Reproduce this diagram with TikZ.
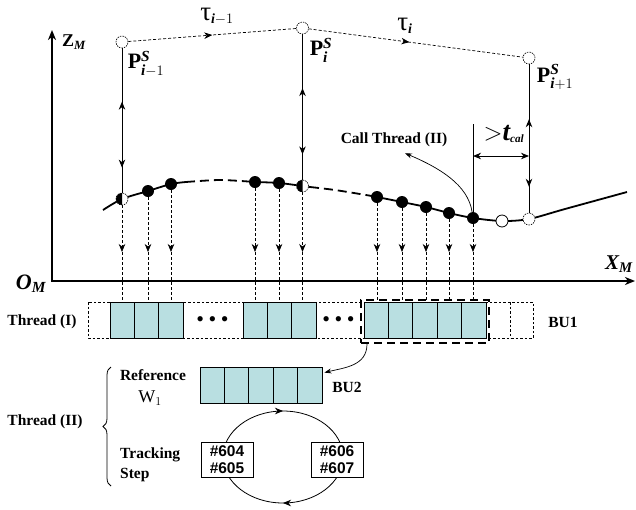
\documentclass[tikz,border=0pt]{standalone}
\usepackage{fontspec}
\usepackage{amsmath}
\setmainfont{Liberation Serif}
\setsansfont{Liberation Sans}
\usetikzlibrary{arrows.meta,calc,decorations.markings,decorations.pathreplacing}
\definecolor{cellfill}{HTML}{B9DFE1}
\newcommand\mybi[1]{\text{\bfseries\itshape #1}}
\tikzset{
 myarr/.tip={Stealth[length=8pt,width=6.5pt,inset=2.5pt]},
 cell/.style={draw, line width=0.8pt, fill=cellfill, minimum width=24.4pt, minimum height=36pt, inner sep=0pt},
 bdot/.style={circle, fill=black, minimum size=12pt, inner sep=0pt},
 hdot/.style={circle, draw, dash pattern=on 1.5pt off 1pt, line width=0.6pt, fill=white, minimum size=12pt, inner sep=0pt},
 odot/.style={circle, draw, line width=0.8pt, fill=white, minimum size=12pt, inner sep=0pt},
 lab/.style={font=\bfseries\fontsize{15.5}{17}\selectfont, inner sep=0pt},
 vdash/.style={line width=0.7pt, dash pattern=on 3pt off 2pt},
 dotrect/.style={line width=0.7pt, dash pattern=on 2.5pt off 2pt},
 curvesolid/.style={line width=1.8pt},
 curvedash/.style={line width=1.8pt, dash pattern=on 9pt off 5pt},
 axis/.style={line width=1.8pt},
 midarrow/.style={decoration={markings, mark=at position #1 with {\arrow{myarr}}}, postaction={decorate}},
 numbox/.style={draw, fill=white, line width=0.8pt, minimum width=52pt, minimum height=35pt, inner sep=0pt, align=center, font=\sffamily\bfseries\fontsize{15.5}{16.5}\selectfont},
}
\begin{document}
\begin{tikzpicture}[x=1pt,y=-1pt]
\useasboundingbox (0,0) rectangle (636,509);

% axes
\coordinate (orig) at (52,281);
\coordinate (ztop) at (52,30);
\coordinate (xend) at (635,281);
\draw[axis, {Stealth[length=10pt,width=8pt,inset=3pt]}-{Stealth[length=10pt,width=8pt,inset=3pt]}] (ztop) -- (orig) -- (xend);
\node[inner sep=0pt, font=\fontsize{18}{18}\selectfont] (zl) at (74,42) {\textbf{Z}$_{\mybi{M}}$};
\node[inner sep=0pt, font=\fontsize{21}{21}\selectfont] (xl) at (619,264) {\mybi{X}$_{\mybi{M}}$};
\node[inner sep=0pt, font=\fontsize{22}{22}\selectfont] (ol) at (31,284) {\mybi{O}$_{\mybi{M}}$};

% curve
\draw[curvesolid] plot[smooth] coordinates {(103,210) (122,199) (148,191) (171,184) (186,182)};
\draw[curvedash] plot[smooth] coordinates {(186,182) (220,180) (255,182)};
\draw[curvesolid] plot[smooth] coordinates {(255,182) (279,183) (302.5,186) (310,187)};
\draw[curvedash] plot[smooth] coordinates {(310,187) (335,190) (366,195)};
\draw[curvesolid] plot[smooth] coordinates {(366,195) (377,197) (402,202) (426,207) (449,213) (473,218) (502,221) (529,219) (565,209) (627,192)};

% buffer row BU1
\draw[dotrect] (88,302) rectangle (533,338);
\draw[dotrect] (510,302) -- (510,338);
\foreach \i/\x in {1/122.2,2/146.6,3/171} \node[cell] (a\i) at (\x,320) {};
\foreach \i/\x in {1/255.2,2/279.6,3/304} \node[cell] (b\i) at (\x,320) {};
\foreach \i/\x in {1/376.2,2/400.6,3/425,4/449.4,5/473.8} \node[cell] (c\i) at (\x,320) {};
\node[font=\fontsize{22}{22}\selectfont, inner sep=0pt] (el1) at (212.5,322) {\textbullet\hspace{4.5pt}\textbullet\hspace{4.5pt}\textbullet};
\node[font=\fontsize{22}{22}\selectfont, inner sep=0pt] (el2) at (338.5,322) {\textbullet\hspace{4.5pt}\textbullet\hspace{4.5pt}\textbullet};

% dots
\node[hdot] (d1) at (122,199) {};
\node[bdot] (d2) at (148,191) {};
\node[bdot] (d3) at (171,184) {};
\node[bdot] (d4) at (255,182) {};
\node[bdot] (d5) at (279,183) {};
\node[hdot] (d6) at (302.5,186) {};
\node[bdot] (d7) at (377,197) {};
\node[bdot] (d8) at (402,202) {};
\node[bdot] (d9) at (426,207) {};
\node[bdot] (d10) at (449,213) {};
\node[bdot] (d11) at (473,218) {};
\node[odot] (o1) at (502,221) {};
\node[hdot] (o2) at (529,219) {};
\foreach \d in {d1,d6} {
  \begin{scope}
  \clip ($(\d.center)+(-7,-7)$) rectangle ($(\d.center)+(0,7)$);
  \fill (\d.center) circle (6);
  \end{scope}
}

% projections
\coordinate (arow) at (0,252);
\foreach \d/\c in {d1/a1,d2/a2,d3/a3,d4/b1,d5/b2,d6/b3,d7/c1,d8/c2,d9/c3,d10/c4,d11/c5} {
  \draw[vdash,-{myarr}] (\d) -- (\d |- arow);
  \draw[vdash] (\d |- arow) -- (\d |- \c.north);
}

% selection box
\node[draw, line width=2pt, dash pattern=on 8pt off 5pt, minimum width=128pt, minimum height=43pt, inner sep=0pt] (sel) at (425,321.5) {};

% sample points
\node[hdot] (P1) at (122,42) {};
\node[hdot] (P2) at (302.5,28) {};
\node[hdot] (P3) at (529,58) {};
\draw[vdash, midarrow=0.5] (P1) -- (P2);
\draw[vdash, midarrow=0.47] (P2) -- (P3);
\foreach \p/\d in {P1/d1,P2/d6,P3/o2} {
  \draw[line width=0.9pt] (\p) -- (\d);
  \draw[line width=0.9pt, {myarr}-{myarr}] ($(\p)!0.38!(\d)$) -- ($(\p)!0.8!(\d)$);
}
\node[inner sep=0pt, font=\fontsize{20}{20}\selectfont] (tau1) at (217,16) {{\fontsize{27}{27}\selectfont τ}$_{\mybi{i}-1}$};
\node[inner sep=0pt, font=\fontsize{20}{20}\selectfont] (tau2) at (405,26) {{\fontsize{27}{27}\selectfont τ}$_{\mybi{i}}$};
\node[inner sep=0pt, font=\fontsize{22}{22}\selectfont] (pl1) at (146,64) {\textbf{P}$^{\mybi{S}}_{\mybi{i}-1}$};
\node[inner sep=0pt, font=\fontsize{22}{22}\selectfont] (pl2) at (321,50) {\textbf{P}$^{\mybi{S}}_{\mybi{i}}$};
\node[inner sep=0pt, font=\fontsize{22}{22}\selectfont] (pl3) at (555,77) {\textbf{P}$^{\mybi{S}}_{\mybi{i}+1}$};

% t_cal
\coordinate (tc) at (473,124);
\draw[line width=0.9pt] (d11) -- (tc);
\coordinate (hl) at (473,156);
\coordinate (hr) at (529,156);
\draw[line width=0.9pt, {myarr}-{myarr}] (hl) -- (hr);
\node[inner sep=0pt, font=\fontsize{16}{16}\selectfont] (tcal) at (504,134) {{\fontsize{27}{27}\selectfont$>$\mybi{t}}$_{\mybi{cal}}$};

% call thread
\node[lab] (call) at (394,140) {Call Thread (II)};
\draw[line width=0.7pt, -{Stealth[length=7pt,width=5pt]}] (d11) .. controls (468,185) and (440,168) .. ($(call.south)+(11,6)$);

\node[lab] (thr1) at (42,322) {Thread (I)};
\node[lab] (bu1) at (563,322) {BU1};

% BU2
\foreach \i/\x in {1/212.2,2/236.6,3/261,4/285.4,5/309.8} \node[cell] (w\i) at (\x,385) {};
\node[lab] (bu2) at (347,387) {BU2};
\draw[line width=0.7pt, -{Stealth[length=7pt,width=5pt]}] ($(sel.south west)+(7,0)$) .. controls +(0,22) and +(20,-5) .. ($(w5.north east)+(2,6)$);

% thread II
\node[lab] (thr2) at (45,422) {Thread (II)};
\draw[line width=0.8pt, decorate, decoration={brace, amplitude=8pt}] (111,486) -- (111,367);
\node[lab] (ref) at (153,375) {Reference};
\node[inner sep=0pt, font=\fontsize{18}{18}\selectfont] (w1) at (150,398) {W$_1$};
\node[lab, align=left, anchor=west, font=\bfseries\fontsize{15.5}{20}\selectfont] (trk) at (120,465) {Tracking\\Step};

\coordinate (ec) at (283,457);
\draw[line width=0.8pt, midarrow=0.5] (ec) ++(-60,0) arc[start angle=180, end angle=360, x radius=60, y radius=46];
\draw[line width=0.8pt, midarrow=0.5] (ec) ++(60,0) arc[start angle=0, end angle=180, x radius=60, y radius=46];
\node[numbox] (n1) at (227,459.5) {\#604\\\#605};
\node[numbox] (n2) at (337,459.5) {\#606\\\#607};
\end{tikzpicture}
\end{document}
